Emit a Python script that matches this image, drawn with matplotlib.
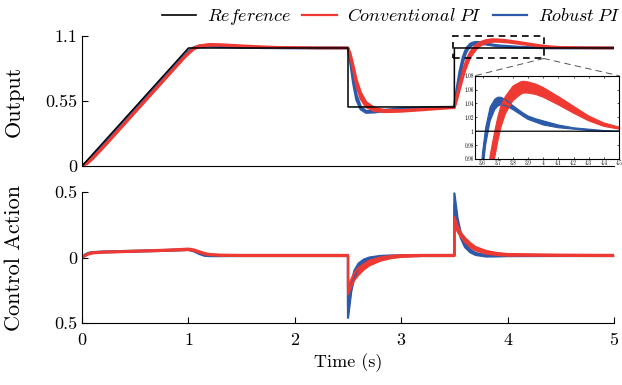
import numpy as np
import matplotlib
matplotlib.use('Agg')
from matplotlib import pyplot as plt
from matplotlib.patches import Rectangle, ConnectionPatch
from matplotlib.lines import Line2D

plt.rcParams['font.family'] = ['cmr10', 'DejaVu Serif']
plt.rcParams['mathtext.fontset'] = 'cm'
plt.rcParams['axes.unicode_minus'] = False

RED = '#ee3a32'
BLUE = '#2c5aa8'

# reference trajectory
t_ref = [0, 1, 2.5, 2.5, 3.5, 3.5, 5]
y_ref = [0, 1, 1, 0.5, 0.5, 1, 1]

# output, envelope of each family (hi / lo)
t_out = [0, 0.05, 0.1, 0.2, 0.4, 0.6, 0.8, 0.95, 1.0, 1.05, 1.1, 1.2, 1.3, 1.5, 1.7, 1.9, 2.2, 2.5,
         2.52, 2.55, 2.58, 2.62, 2.67, 2.75, 2.85, 3.0, 3.2, 3.35, 3.5,
         3.52, 3.55, 3.58, 3.6, 3.62, 3.65, 3.68, 3.7, 3.72, 3.75, 3.8, 3.85, 3.87, 3.9, 3.95, 4.0,
         4.1, 4.2, 4.3, 4.4, 4.5, 4.7, 5.0]
rob_out_hi = [0, 0.04, 0.085, 0.18, 0.38, 0.58, 0.78, 0.93, 0.975, 1.005, 1.018, 1.022, 1.016, 1.007, 1.003, 1.001, 1.0, 1.0,
              0.92, 0.75, 0.6, 0.5, 0.465, 0.465, 0.475, 0.487, 0.495, 0.498, 0.5,
              0.64, 0.8, 0.92, 0.97, 1.005, 1.035, 1.046, 1.049, 1.049, 1.046, 1.037, 1.029, 1.026, 1.022, 1.018, 1.015,
              1.009, 1.005, 1.003, 1.001, 1.0, 1.0, 1.0]
rob_out_lo = [0, 0.03, 0.075, 0.17, 0.37, 0.57, 0.77, 0.92, 0.965, 0.995, 1.008, 1.014, 1.01, 1.004, 1.001, 1.0, 1.0, 1.0,
              0.89, 0.7, 0.56, 0.48, 0.452, 0.455, 0.467, 0.48, 0.49, 0.495, 0.498,
              0.6, 0.75, 0.88, 0.94, 0.98, 1.015, 1.031, 1.036, 1.038, 1.037, 1.031, 1.024, 1.021, 1.017, 1.013, 1.009,
              1.005, 1.003, 1.001, 1.0, 1.0, 1.0, 1.0]
con_out_hi = [0, 0.03, 0.07, 0.165, 0.365, 0.565, 0.765, 0.915, 0.96, 1.0, 1.02, 1.032, 1.03, 1.02, 1.011, 1.005, 1.001, 1.0,
              0.96, 0.85, 0.73, 0.62, 0.54, 0.49, 0.472, 0.472, 0.482, 0.49, 0.497,
              0.58, 0.7, 0.8, 0.86, 0.91, 0.965, 1.0, 1.02, 1.036, 1.05, 1.065, 1.071, 1.072, 1.071, 1.068, 1.063,
              1.05, 1.036, 1.022, 1.012, 1.006, 1.002, 1.0]
con_out_lo = [0, 0.02, 0.06, 0.155, 0.355, 0.555, 0.755, 0.905, 0.95, 0.99, 1.01, 1.022, 1.022, 1.014, 1.007, 1.003, 1.0, 1.0,
              0.94, 0.81, 0.68, 0.57, 0.5, 0.467, 0.458, 0.462, 0.474, 0.484, 0.493,
              0.55, 0.65, 0.75, 0.81, 0.86, 0.925, 0.962, 0.985, 1.005, 1.025, 1.044, 1.053, 1.055, 1.055, 1.053, 1.049,
              1.038, 1.026, 1.015, 1.007, 1.003, 1.001, 1.0]

# control action
t_u = [0, 0.03, 0.06, 0.1, 0.2, 0.5, 0.8, 1.0, 1.05, 1.1, 1.15, 1.2, 1.3, 1.5, 2.0, 2.5,
       2.5, 2.53, 2.56, 2.6, 2.65, 2.7, 2.8, 2.9, 3.0, 3.2, 3.5,
       3.5, 3.53, 3.56, 3.6, 3.65, 3.7, 3.8, 3.9, 4.0, 4.5, 5.0]
con_u_hi = [0, 0.02, 0.032, 0.04, 0.045, 0.052, 0.06, 0.068, 0.062, 0.048, 0.035, 0.027, 0.022, 0.02, 0.02, 0.02,
            -0.23, -0.17, -0.12, -0.08, -0.05, -0.025, 0.0, 0.012, 0.018, 0.02, 0.02,
            0.31, 0.24, 0.19, 0.15, 0.11, 0.08, 0.05, 0.035, 0.027, 0.022, 0.02]
con_u_lo = [0, 0.012, 0.024, 0.032, 0.038, 0.045, 0.052, 0.058, 0.052, 0.038, 0.026, 0.019, 0.014, 0.012, 0.012, 0.012,
            -0.28, -0.22, -0.17, -0.13, -0.09, -0.06, -0.025, -0.005, 0.005, 0.012, 0.012,
            0.25, 0.2, 0.16, 0.12, 0.08, 0.055, 0.03, 0.02, 0.015, 0.013, 0.012]
rob_u_hi = [0, 0.025, 0.036, 0.042, 0.046, 0.052, 0.058, 0.064, 0.055, 0.035, 0.022, 0.018, 0.017, 0.018, 0.018, 0.018,
            -0.38, -0.2, -0.1, -0.045, -0.015, 0.0, 0.012, 0.016, 0.017, 0.018, 0.018,
            0.49, 0.3, 0.19, 0.11, 0.06, 0.035, 0.018, 0.016, 0.017, 0.018, 0.018]
rob_u_lo = [0, 0.018, 0.03, 0.036, 0.04, 0.046, 0.052, 0.058, 0.048, 0.028, 0.014, 0.011, 0.011, 0.012, 0.012, 0.012,
            -0.46, -0.26, -0.15, -0.075, -0.035, -0.015, 0.002, 0.009, 0.011, 0.012, 0.012,
            0.4, 0.25, 0.15, 0.08, 0.04, 0.02, 0.008, 0.009, 0.011, 0.012, 0.012]

out_ticks = [0, 0.55, 1.1]
out_labels = ['0', '0.55', '1.1']
u_ticks = [-0.5, 0, 0.5]
u_labels = ['0.5', '0', '0.5']
inset_xticks = [3.6, 3.7, 3.8, 3.9, 4.0, 4.1, 4.2, 4.3, 4.4, 4.5]
inset_xlabels = ['3.6', '3.7', '3.8', '3.9', '4', '4.1', '4.2', '4.3', '4.4', '4.5']
inset_yticks = [0.96, 0.98, 1.0, 1.02, 1.04, 1.06, 1.08]
inset_ylabels = ['0.96', '0.98', '1', '1.02', '1.04', '1.06', '1.08']


def band(ax, t, lo, hi, color, lw):
    ax.fill_between(t, lo, hi, color=color, lw=0)
    ax.plot(t, lo, color=color, lw=lw)
    ax.plot(t, hi, color=color, lw=lw)


def style(ax):
    for s in ['top', 'right']:
        ax.spines[s].set_visible(False)
    ax.tick_params(direction='in', length=4, labelsize=13, width=0.8)
    ax.set_xlim(0, 5)


fig = plt.figure(figsize=(6.22, 3.85), dpi=100)
ax1 = fig.add_axes([0.132, 0.569, 0.855, 0.337])
ax2 = fig.add_axes([0.132, 0.161, 0.855, 0.340])

# top: output
band(ax1, t_out, rob_out_lo, rob_out_hi, BLUE, 1.8)
band(ax1, t_out, con_out_lo, con_out_hi, RED, 1.8)
ax1.plot(t_ref, y_ref, color='black', lw=1.1, zorder=5)
style(ax1)
ax1.set_ylim(0, 1.1)
ax1.set_yticks(out_ticks, out_labels)
ax1.tick_params(axis='x', bottom=False, labelbottom=False)
ax1.set_ylabel('Output', fontsize=16)
ax1.yaxis.set_label_coords(-0.11, 0.5)

# zoom box
ax1.add_patch(Rectangle((3.49, 0.911), 0.85, 0.189, fill=False, ls=(0, (4, 3)),
                        lw=1.2, ec='black', clip_on=False, zorder=6))

# inset
axi = fig.add_axes([0.7637, 0.587, 0.2315, 0.2164])
band(axi, t_out, rob_out_lo, rob_out_hi, BLUE, 0.8)
band(axi, t_out, con_out_lo, con_out_hi, RED, 0.8)
axi.plot(t_ref, y_ref, color='black', lw=0.9, zorder=5)
axi.set_xlim(3.55, 4.5)
axi.set_ylim(0.96, 1.08)
axi.set_xticks(inset_xticks, inset_xlabels)
axi.set_yticks(inset_yticks, inset_ylabels)
axi.tick_params(direction='in', length=1.5, labelsize=3.8, pad=1, width=0.5,
                top=True, right=True)
for s in axi.spines.values():
    s.set_linewidth(0.8)

for xy in [(0, 1), (1, 1)]:
    con = ConnectionPatch(xyA=(4.34, 0.911), coordsA=ax1.transData,
                          xyB=xy, coordsB=axi.transAxes,
                          ls=(0, (6, 5)), lw=0.7, color='#555555')
    fig.add_artist(con)

# bottom: control action
band(ax2, t_u, rob_u_lo, rob_u_hi, BLUE, 1.6)
band(ax2, t_u, con_u_lo, con_u_hi, RED, 1.6)
style(ax2)
ax2.set_ylim(-0.5, 0.5)
ax2.set_yticks(u_ticks, u_labels)
ax2.set_xticks([0, 1, 2, 3, 4, 5])
ax2.tick_params(axis='x', pad=7)
ax2.set_ylabel('Control Action', fontsize=16)
ax2.yaxis.set_label_coords(-0.11, 0.5)
ax2.set_xlabel('Time (s)', fontsize=13)

handles = [Line2D([], [], color='black', lw=1.2),
           Line2D([], [], color=RED, lw=1.6),
           Line2D([], [], color=BLUE, lw=1.6)]
labels = [r'$\mathit{Reference}$', r'$\mathit{Conventional\;PI}$', r'$\mathit{Robust\;PI}$']
fig.legend(handles, labels, loc='center', bbox_to_anchor=(0.629, 0.956), ncol=3,
           frameon=False, fontsize=13, handlelength=1.9, handletextpad=0.6,
           columnspacing=0.6, borderaxespad=0)

fig.savefig('out.png', dpi=100)
